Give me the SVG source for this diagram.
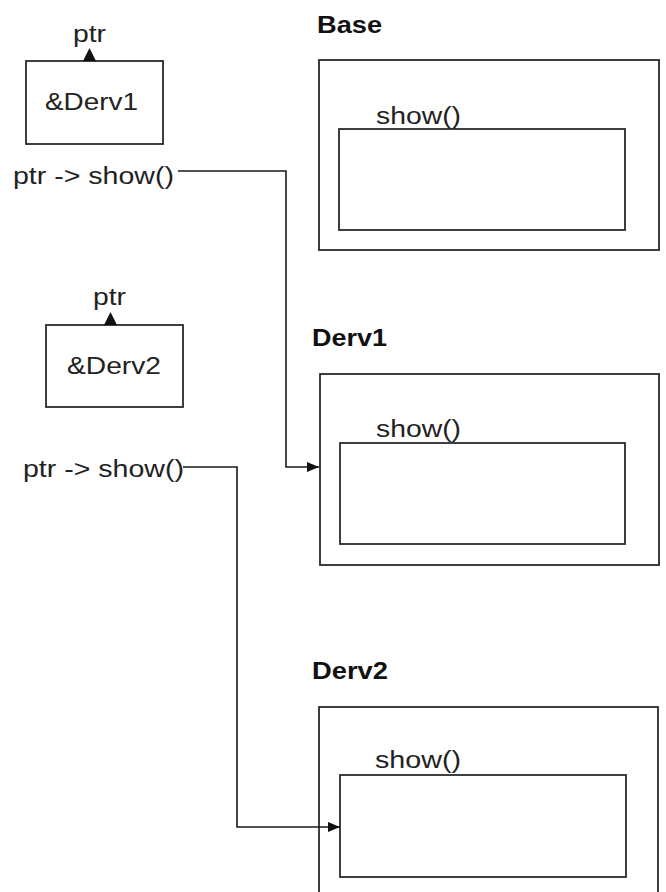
<svg xmlns="http://www.w3.org/2000/svg" width="666" height="892" viewBox="0 0 666 892">
<style>
.box{fill:#fff;stroke:#2a2a2a;stroke-width:1.8}
.t{font-family:"Liberation Sans",Arial,sans-serif;font-size:23px;fill:#222}
.b{font-family:"Liberation Sans",Arial,sans-serif;font-size:23px;font-weight:bold;fill:#111}
.c{fill:none;stroke:#1a1a1a;stroke-width:1.6}
.tri{fill:#111}
</style>
<defs>
<marker id="ah" viewBox="0 0 12 10" refX="12" refY="5" markerWidth="12" markerHeight="10" markerUnits="userSpaceOnUse" orient="auto">
<path d="M0,0 L12,5 L0,10 Z" fill="#111"/>
</marker>
</defs>
<rect width="666" height="892" fill="#fff"/>
<g id="ptr1">
<rect class="box" x="26" y="61" width="137" height="83"/>
<text class="t" x="73" y="42" textLength="33" lengthAdjust="spacingAndGlyphs">ptr</text>
<text class="t" x="45" y="110" textLength="93" lengthAdjust="spacingAndGlyphs">&amp;Derv1</text>
</g>
<g id="call1">
<text class="t" x="13" y="184" textLength="161" lengthAdjust="spacingAndGlyphs">ptr -&gt; show()</text>
</g>
<g id="ptr2">
<rect class="box" x="46" y="325" width="137" height="82"/>
<text class="t" x="93" y="305" textLength="33" lengthAdjust="spacingAndGlyphs">ptr</text>
<text class="t" x="67" y="374" textLength="94" lengthAdjust="spacingAndGlyphs">&amp;Derv2</text>
</g>
<g id="call2">
<text class="t" x="23" y="477" textLength="161" lengthAdjust="spacingAndGlyphs">ptr -&gt; show()</text>
</g>
<g id="base">
<text class="b" x="317" y="33" textLength="65" lengthAdjust="spacingAndGlyphs">Base</text>
<rect class="box" x="319" y="60" width="340" height="190"/>
<rect class="box" x="339" y="129" width="286" height="101"/>
<text class="t" x="376" y="124" textLength="85" lengthAdjust="spacingAndGlyphs">show()</text>
</g>
<g id="derv1">
<text class="b" x="312" y="346" textLength="75" lengthAdjust="spacingAndGlyphs">Derv1</text>
<rect class="box" x="320" y="374" width="339" height="191"/>
<rect class="box" x="340" y="443" width="285" height="101"/>
<text class="t" x="376" y="437" textLength="85" lengthAdjust="spacingAndGlyphs">show()</text>
</g>
<g id="derv2">
<text class="b" x="312" y="679" textLength="76" lengthAdjust="spacingAndGlyphs">Derv2</text>
<rect class="box" x="319" y="707" width="339" height="200"/>
<rect class="box" x="340" y="775" width="286" height="102"/>
<text class="t" x="375" y="768" textLength="86" lengthAdjust="spacingAndGlyphs">show()</text>
</g>
<g id="connectors">
<polygon class="tri" points="83,61 89.5,48 96,61"/>
<polygon class="tri" points="104,325 110.5,312 117,325"/>
<path class="c" d="M178,171 H286 V467 H319" marker-end="url(#ah)"/>
<path class="c" d="M183,467 H237 V827 H340" marker-end="url(#ah)"/>
</g>
</svg>
